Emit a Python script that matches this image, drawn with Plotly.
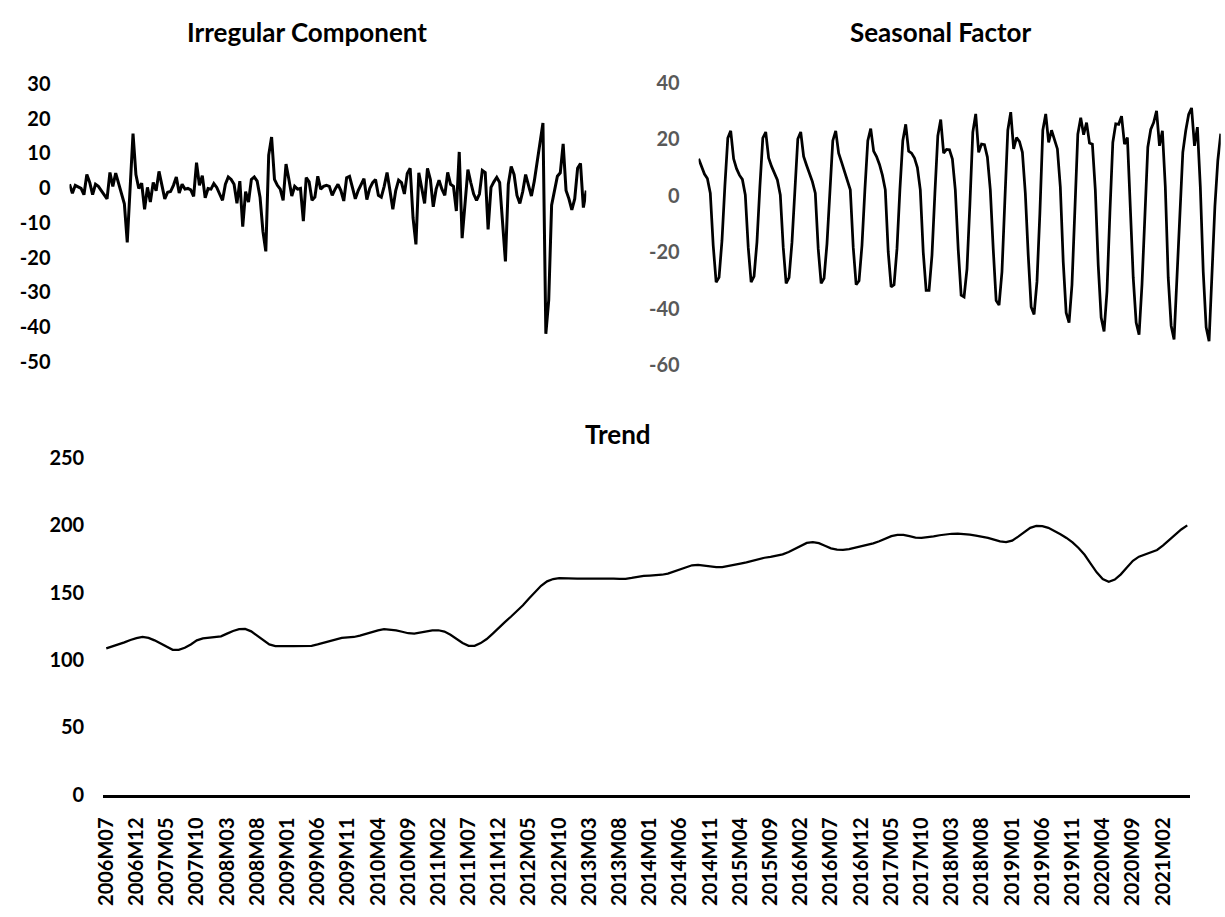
import plotly.graph_objects as go

W, H = 1225, 917

# Monthly index, 2006M07 .. 2021M06
MONTHS = [f"{2006 + (6 + i) // 12}M{(6 + i) % 12 + 1:02d}" for i in range(180)]

TICK_LABELS = [
    "2006M07", "2006M12", "2007M05", "2007M10", "2008M03", "2008M08",
    "2009M01", "2009M06", "2009M11", "2010M04", "2010M09", "2011M02",
    "2011M07", "2011M12", "2012M05", "2012M10", "2013M03", "2013M08",
    "2014M01", "2014M06", "2014M11", "2015M04", "2015M09", "2016M02",
    "2016M07", "2016M12", "2017M05", "2017M10", "2018M03", "2018M08",
    "2019M01", "2019M06", "2019M11", "2020M04", "2020M09", "2021M02",
]

IRREGULAR = [
    1.1, -1.5, 0.8, 0.4, -0.1, -1.9, 3.9, 1.6, -1.9, 1.1,
    0.5, -0.7, -2.1, -3.1, 4.5, 0.5, 4.3, 1.1, -1.7, -4.5,
    -15.6, 0.0, 15.7, 3.9, -0.1, 1.4, -6.1, 0.2, -4.0, 1.6,
    -0.8, 4.8, 0.6, -3.1, -1.2, -1.0, 0.8, 3.2, -1.4, 1.1,
    -0.3, -0.1, -0.5, -2.4, 7.3, 0.8, 3.6, -2.8, -0.1, -0.3,
    1.3, 0.2, -1.7, -3.5, 1.1, 3.2, 2.5, 1.1, -4.4, 2.0,
    -11.1, -1.0, -4.0, 2.5, 3.2, 2.0, -2.6, -12.4, -18.2, 9.5,
    14.7, 2.5, 0.8, -0.3, -3.5, 6.9, 2.5, -2.3, 0.5, -0.3,
    -0.1, -9.5, 3.0, 1.8, -3.5, -2.6, 3.4, -0.3, 0.5, 0.8,
    0.5, -2.1, -0.3, 1.1, -0.7, -3.7, 3.0, 3.4, 0.2, -3.1,
    -0.7, 0.8, 2.7, -3.3, -0.1, 1.6, 2.5, -2.1, -2.6, 0.5,
    4.5, -0.7, -6.1, -0.7, 2.3, 1.6, -1.7, 4.2, 5.7, -8.6,
    -16.2, 4.4, -0.3, -4.4, 5.7, 2.5, -5.4, -0.3, 2.3, -0.3,
    -2.1, 4.5, 1.1, 0.5, -6.6, 10.4, -14.4, -3.1, 5.3, 1.6,
    -1.7, -3.5, -1.7, 5.1, 4.5, -11.9, 0.2, 1.8, 3.1, 1.6,
    -10.5, -21.1, 1.1, 6.2, 3.9, -2.1, -4.4, -1.0, 3.9, 1.1,
    -2.3, 2.0, 7.6, 13.0, 18.7, -41.9, -32.2, -4.9, -0.3, 3.4,
    4.4, 12.7, -0.7, -3.1, -6.3, -3.1, 5.7, 7.1, -5.6, -0.7,
]

# Seasonal factor, one row per July-June year
SEASONAL = [
    13.1, 10.0, 7.7, 6.1, 0.9, -17.6, -30.6, -28.9, -16.0, 3.5, 20.4, 23.0,
    13.1, 9.6, 7.3, 5.8, 0.3, -18.2, -30.6, -28.5, -16.3, 3.2, 20.4, 22.6,
    13.4, 10.4, 7.9, 5.6, 0.3, -18.2, -31.0, -29.0, -16.5, 3.2, 20.1, 22.6,
    13.9, 10.8, 7.9, 5.0, 0.9, -18.8, -31.0, -29.2, -17.0, 3.2, 19.5, 23.0,
    15.1, 11.9, 8.5, 5.6, 2.1, -18.2, -31.5, -30.1, -17.6, 2.1, 19.5, 23.8,
    15.8, 13.9, 11.1, 7.3, 2.1, -19.9, -32.3, -31.5, -18.8, 2.1, 19.5, 25.3,
    15.8, 15.1, 13.4, 10.0, 2.1, -19.9, -33.5, -33.5, -21.1, 0.9, 21.2, 27.0,
    15.1, 16.4, 16.3, 13.0, 2.0, -19.0, -35.2, -35.8, -26.0, -3.0, 22.5, 29.0,
    15.4, 18.3, 18.1, 13.7, 2.1, -18.8, -37.1, -38.7, -26.9, -1.4, 23.2, 29.6,
    16.6, 20.6, 19.2, 15.4, 1.0, -21.0, -39.4, -42.0, -30.4, -6.0, 23.2, 29.0,
    18.9, 23.2, 19.5, 16.6, 3.2, -23.4, -41.4, -44.9, -31.5, -6.0, 21.8, 27.6,
    21.6, 25.9, 18.7, 18.3, 2.1, -24.6, -43.1, -48.0, -33.9, -6.0, 18.9, 25.5,
    25.3, 28.2, 18.3, 20.6, -1.4, -29.0, -44.9, -49.2, -31.5, -3.7, 17.2, 23.5,
    25.9, 30.1, 17.7, 23.0, 3.2, -29.0, -46.0, -50.9, -29.0, -3.7, 15.4, 23.0,
    28.8, 31.1, 17.7, 24.3, 3.2, -26.9, -46.6, -51.5, -26.9, -3.7, 12.5, 22.0,
]

TREND = [
    108.6, 110.0, 111.5, 113.0, 114.8, 116.2, 117.0, 116.3, 114.5, 112.0,
    109.5, 107.5, 107.5, 109.0, 111.5, 114.5, 116.0, 116.5, 116.6, 117.5,
    119.5, 121.5, 122.8, 123.0, 121.2, 118.0, 114.5, 111.5, 110.3, 110.0,
    110.2, 110.3, 110.3, 110.1, 110.5, 111.5, 112.8, 114.3, 115.6, 116.4,
    116.8, 117.0, 118.0, 119.4, 120.6, 121.9, 122.8, 122.6, 121.9, 120.9,
    119.8, 119.5, 120.3, 121.2, 121.9, 122.0, 121.0, 118.7, 115.6, 112.6,
    110.5, 110.5, 112.5, 115.5, 119.5, 124.0, 128.0, 132.0, 136.0, 140.5,
    145.5, 150.5, 155.0, 158.3, 160.0, 160.6, 160.7, 160.6, 160.4, 160.3,
    160.4, 160.6, 160.7, 160.6, 160.4, 160.2, 160.2, 160.8, 161.6, 162.3,
    162.6, 162.8, 163.2, 164.0, 165.5, 167.3, 169.0, 170.2, 170.5, 170.0,
    169.3, 168.8, 168.9, 169.6, 170.6, 171.5, 172.4, 173.6, 175.0, 175.8,
    176.5, 177.4, 178.3, 180.0, 182.3, 184.8, 186.8, 187.4, 186.6, 184.7,
    182.8, 181.8, 181.7, 182.2, 183.2, 184.3, 185.5, 186.5, 188.0, 190.0,
    191.8, 192.8, 192.8, 191.8, 190.8, 190.5, 190.8, 191.6, 192.5, 193.2,
    193.6, 193.7, 193.4, 192.9, 192.2, 191.6, 190.6, 189.3, 188.0, 187.4,
    188.5, 191.5, 195.0, 198.0, 199.4, 199.3, 198.0, 195.8, 193.2, 190.5,
    187.2, 183.0, 178.0, 171.5, 165.0, 160.0, 158.0, 159.6, 163.5, 168.6,
    173.5, 176.6, 178.2, 179.6, 181.6, 185.0, 189.0, 193.0, 196.8, 199.8,
]

IRR_TICKS = [30, 20, 10, 0, -10, -20, -30, -40, -50]
SEA_TICKS = [40, 20, 0, -20, -40, -60]
TRD_TICKS = [250, 200, 150, 100, 50, 0]

FONT = "Lato"
BLACK = "#000000"
GREY = "#595959"


def xdom(left, right):
    return [left / W, right / W]


def ydom(top, bottom):
    return [1 - bottom / H, 1 - top / H]


def tick_font(color):
    return dict(family=FONT, size=20, color=color, weight="bold")


fig = go.Figure()

fig.add_trace(go.Scatter(x=MONTHS, y=IRREGULAR, mode="lines",
                         line=dict(color=BLACK, width=3),
                         xaxis="x", yaxis="y", hoverinfo="x+y"))
fig.add_trace(go.Scatter(x=MONTHS, y=SEASONAL, mode="lines",
                         line=dict(color=BLACK, width=2.75),
                         xaxis="x2", yaxis="y2", hoverinfo="x+y"))
fig.add_trace(go.Scatter(x=MONTHS, y=TREND, mode="lines",
                         line=dict(color=BLACK, width=2.25),
                         xaxis="x3", yaxis="y3", hoverinfo="x+y"))

hidden_x = dict(visible=False, type="category", showgrid=False, zeroline=False)
y_common = dict(showgrid=False, zeroline=False, showline=False, ticks="",
                ticklabelstandoff=18)

fig.update_layout(
    width=W, height=H, autosize=False,
    margin=dict(l=0, r=0, t=0, b=0),
    paper_bgcolor="white", plot_bgcolor="white",
    showlegend=False,
    xaxis=dict(hidden_x, domain=xdom(60, 581), range=[0, 179], anchor="y"),
    yaxis=dict(y_common, domain=ydom(72.7, 358.3), range=[-50, 30],
               tickvals=IRR_TICKS, ticktext=[str(v) for v in IRR_TICKS],
               tickfont=tick_font(BLACK), anchor="x"),
    xaxis2=dict(hidden_x, domain=xdom(694.3, 1220.7), range=[0, 179], anchor="y2"),
    yaxis2=dict(y_common, domain=ydom(71.7, 361.7), range=[-60, 40],
                tickvals=SEA_TICKS, ticktext=[str(v) for v in SEA_TICKS],
                tickfont=tick_font(GREY), anchor="x2"),
    xaxis3=dict(type="category", domain=xdom(94, 1190), range=[-0.5, 179.5],
                anchor="y3", showgrid=False, zeroline=False,
                showline=True, linecolor=BLACK, linewidth=2.5,
                ticks="", tickangle=-90, tickvals=TICK_LABELS, ticktext=TICK_LABELS,
                tickfont=tick_font(BLACK), ticklabelstandoff=12),
    yaxis3=dict(y_common, domain=ydom(456.7, 802.7), range=[0, 250],
                tickvals=TRD_TICKS, ticktext=[str(v) for v in TRD_TICKS],
                tickfont=tick_font(BLACK), anchor="x3"),
)

title_font = dict(family=FONT, size=26, color=BLACK, weight="bold")
for text, cx, cy in [("Irregular Component", 299, 20),
                     ("Seasonal Factor", 938, 20),
                     ("Trend", 613, 432)]:
    fig.add_annotation(text=text, xref="paper", yref="paper",
                       x=cx / W, y=1 - cy / H, xanchor="center", yanchor="middle",
                       showarrow=False, font=title_font)

fig.write_html("out.html")
